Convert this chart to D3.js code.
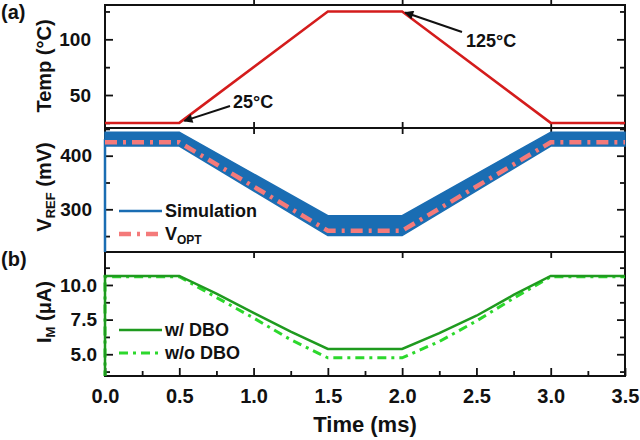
<!DOCTYPE html>
<html>
<head>
<meta charset="utf-8">
<script src="https://cdn.jsdelivr.net/npm/d3@7"></script>
<style>
  body { margin: 0; background: #fff; }
  svg text { font-family: "Liberation Sans", Arial, sans-serif; font-weight: bold; fill: #111; }
</style>
</head>
<body>
<div class="container"></div>
<script>
// time axis (ms)
var timeTicks = [0, 0.5, 1.0, 1.5, 2.0, 2.5, 3.0, 3.5];

// (a) temperature profile
var tempTime = [0, 0.5, 1.5, 2.0, 3.0, 3.5];
var temp = [25, 25, 125, 125, 25, 25];
var tempTicks = [50, 100];
var tempMinor = [25, 75, 125];

// V_REF simulation band (mV) and V_OPT
var simTime = [0, 0.5, 1.5, 2.0, 3.0, 3.5];
var simHigh = [444, 444, 288, 288, 444, 444];
var simLow = [418, 418, 251, 251, 418, 418];
var simStart = 0;
var vOpt = [425, 425, 260, 260, 425, 425];
var vTicks = [300, 400];
var vMinor = [250, 350, 450];

// (b) mirror current (uA)
var imTime = [0, 0, 0.5, 0.75, 1.0, 1.25, 1.5, 2.0, 2.25, 2.5, 2.75, 3.0, 3.5];
var imDbo = [0, 10.65, 10.65, 9.38, 7.98, 6.64, 5.38, 5.38, 6.52, 7.78, 9.28, 10.65, 10.65];
var imNoDbo = [0, 10.6, 10.6, 9.1, 7.62, 6.05, 4.74, 4.74, 5.92, 7.4, 9.04, 10.6, 10.6];
var imTicks = [5.0, 7.5, 10.0];
var imMinor = [3.75, 6.25, 8.75, 11.25];

!function () {
    var svg = d3.select('.container')
        .append('svg')
        .attr('width', 640)
        .attr('height', 440);

    var x = d3.scaleLinear().domain([0, 3.5]).range([105, 625]);

    var y1 = d3.scaleLinear().domain([20.4, 130.8]).range([128, 5]);
    var y2 = d3.scaleLinear().domain([220.3, 451.7]).range([252, 128]);
    var y3 = d3.scaleLinear().domain([3.43, 12.38]).range([376, 252]);

    var defs = svg.append('defs');
    [[y1, 'c1'], [y2, 'c2'], [y3, 'c3']].forEach(function (p) {
        var r = p[0].range();
        defs.append('clipPath').attr('id', p[1])
            .append('rect')
            .attr('x', x.range()[0] - 2).attr('y', r[1])
            .attr('width', x.range()[1] - x.range()[0] + 4)
            .attr('height', r[0] - r[1]);
    });
    defs.append('marker')
        .attr('id', 'arrow')
        .attr('viewBox', '0 0 10 10')
        .attr('refX', 9).attr('refY', 5)
        .attr('markerWidth', 11).attr('markerHeight', 9)
        .attr('markerUnits', 'userSpaceOnUse')
        .attr('orient', 'auto')
        .append('path')
        .attr('d', 'M0,0L10,5L0,10Z')
        .attr('fill', '#111');

    function style(g) {
        g.select('.domain').remove();
        g.selectAll('line').attr('stroke', '#111').attr('stroke-width', 1.8);
        g.selectAll('text').attr('font-size', 19).attr('fill', '#111')
            .attr('font-family', '"Liberation Sans", Arial, sans-serif').attr('font-weight', 'bold');
    }

    // y axes (left with labels, right without), ticks inward
    function yAxes(y, major, minor, pad, fmt) {
        svg.append('g')
            .attr('transform', 'translate(' + x.range()[0] + ',0)')
            .call(d3.axisLeft(y).tickValues(major).tickSize(-8).tickPadding(pad).tickFormat(fmt))
            .call(style);
        svg.append('g')
            .attr('transform', 'translate(' + x.range()[0] + ',0)')
            .call(d3.axisLeft(y).tickValues(minor).tickSize(-5).tickFormat(''))
            .call(style);
        svg.append('g')
            .attr('transform', 'translate(' + x.range()[1] + ',0)')
            .call(d3.axisRight(y).tickValues(major).tickSize(-8).tickFormat(''))
            .call(style);
        svg.append('g')
            .attr('transform', 'translate(' + x.range()[1] + ',0)')
            .call(d3.axisRight(y).tickValues(minor).tickSize(-5).tickFormat(''))
            .call(style);
    }

    function xSmall(yPos, dir) {
        var ax = dir > 0 ? d3.axisBottom(x) : d3.axisTop(x);
        svg.append('g')
            .attr('transform', 'translate(0,' + yPos + ')')
            .call(ax.tickValues([1, 2, 3]).tickSize(-6).tickFormat(''))
            .call(style);
    }

    yAxes(y1, tempTicks, tempMinor, 14, d3.format('d'));
    yAxes(y2, vTicks, vMinor, 13, d3.format('d'));
    yAxes(y3, imTicks, imMinor, 8, d3.format('.1f'));

    xSmall(5, 1);
    xSmall(128, -1);
    xSmall(128, 1);
    xSmall(252, -1);

    // bottom time axis
    var bx = svg.append('g')
        .attr('transform', 'translate(0,376)')
        .call(d3.axisBottom(x).tickValues(timeTicks).tickSize(-8).tickPadding(13).tickFormat(d3.format('.1f')))
        .call(style);
    bx.selectAll('text').attr('font-size', 20);
    svg.append('g')
        .attr('transform', 'translate(0,376)')
        .call(d3.axisBottom(x).tickValues(d3.range(0.25, 3.5, 0.5)).tickSize(-5).tickFormat(''))
        .call(style);

    // panel frames
    [y1, y2, y3].forEach(function (y) {
        var r = y.range();
        svg.append('rect')
            .attr('x', x.range()[0]).attr('y', r[1])
            .attr('width', x.range()[1] - x.range()[0])
            .attr('height', r[0] - r[1])
            .attr('fill', 'none')
            .attr('stroke', '#111')
            .attr('stroke-width', 2);
    });

    // (a) temperature
    svg.append('path')
        .datum(tempTime.map(function (t, i) { return [t, temp[i]]; }))
        .attr('clip-path', 'url(#c1)')
        .attr('fill', 'none')
        .attr('stroke', '#d41c1c')
        .attr('stroke-width', 2.5)
        .attr('d', d3.line().x(function (d) { return x(d[0]); }).y(function (d) { return y1(d[1]); }));

    // simulation band
    var g2 = svg.append('g').attr('clip-path', 'url(#c2)');
    g2.append('path')
        .datum([[0, simStart], [0, (simHigh[0] + simLow[0]) / 2]])
        .attr('fill', 'none').attr('stroke', '#1a6db3').attr('stroke-width', 2.5)
        .attr('d', d3.line().x(function (d) { return x(d[0]); }).y(function (d) { return y2(d[1]); }));
    g2.append('path')
        .datum(simTime.map(function (t, i) { return [t, simLow[i], simHigh[i]]; }))
        .attr('fill', '#1a6db3')
        .attr('stroke', '#1a6db3')
        .attr('stroke-width', 1.5)
        .attr('d', d3.area()
            .x(function (d) { return x(d[0]); })
            .y0(function (d) { return y2(d[1]); })
            .y1(function (d) { return y2(d[2]); }));
    g2.append('path')
        .datum(simTime.map(function (t, i) { return [t, vOpt[i]]; }))
        .attr('fill', 'none')
        .attr('stroke', '#f47a7a')
        .attr('stroke-width', 4.5)
        .attr('stroke-dasharray', '12,6,3,6')
        .attr('d', d3.line().x(function (d) { return x(d[0]); }).y(function (d) { return y2(d[1]); }));

    // (b) currents
    var g3 = svg.append('g').attr('clip-path', 'url(#c3)');
    var line3 = d3.line().x(function (d) { return x(d[0]); }).y(function (d) { return y3(d[1]); });
    g3.append('path')
        .datum(imTime.map(function (t, i) { return [t, imNoDbo[i]]; }))
        .attr('fill', 'none')
        .attr('stroke', '#2cd82c')
        .attr('stroke-width', 3)
        .attr('stroke-dasharray', '9,5,3,5')
        .attr('d', line3);
    g3.append('path')
        .datum(imTime.map(function (t, i) { return [t, imDbo[i]]; }))
        .attr('fill', 'none')
        .attr('stroke', '#1f9a1f')
        .attr('stroke-width', 2.5)
        .attr('d', line3);

    // annotations
    svg.append('line')
        .attr('x1', 230).attr('y1', 106)
        .attr('x2', x(0.5) + 5).attr('y2', y1(25) - 2)
        .attr('stroke', '#111').attr('stroke-width', 2)
        .attr('marker-end', 'url(#arrow)');
    svg.append('text').attr('x', 233).attr('y', 108).attr('font-size', 18).text('25°C');

    svg.append('line')
        .attr('x1', 462).attr('y1', 32)
        .attr('x2', x(2.0) + 3).attr('y2', y1(125) + 1)
        .attr('stroke', '#111').attr('stroke-width', 2)
        .attr('marker-end', 'url(#arrow)');
    svg.append('text').attr('x', 466).attr('y', 47).attr('font-size', 18).text('125°C');

    // legends
    function legendLine(y, color, width, dash) {
        svg.append('line')
            .attr('x1', 119).attr('x2', 162).attr('y1', y).attr('y2', y)
            .attr('stroke', color).attr('stroke-width', width)
            .attr('stroke-dasharray', dash || null);
    }
    legendLine(211, '#1a6db3', 2.5);
    svg.append('text').attr('x', 165).attr('y', 217).attr('font-size', 18).text('Simulation');
    legendLine(234, '#f47a7a', 4.5, '12,6,3,6');
    var vo = svg.append('text').attr('x', 165).attr('y', 240).attr('font-size', 18);
    vo.append('tspan').text('V');
    vo.append('tspan').attr('font-size', 12).attr('dy', 4).text('OPT');

    legendLine(330, '#1f9a1f', 2.5);
    svg.append('text').attr('x', 165).attr('y', 336).attr('font-size', 18).text('w/ DBO');
    legendLine(353, '#2cd82c', 3, '9,5,3,5');
    svg.append('text').attr('x', 165).attr('y', 359).attr('font-size', 18).text('w/o DBO');

    // axis titles
    function yTitle(cy, parts) {
        var t = svg.append('text')
            .attr('transform', 'translate(51,' + cy + ') rotate(-90)')
            .attr('text-anchor', 'middle')
            .attr('font-size', 20);
        parts.forEach(function (p) {
            var s = t.append('tspan').text(p[0]);
            if (p[1]) s.attr('font-size', 13).attr('dy', 4);
            if (p[2]) s.attr('dy', -4);
        });
    }
    yTitle(66, [['Temp (°C)']]);
    yTitle(187, [['V'], ['REF', 1], [' (mV)', 0, 1]]);
    yTitle(312, [['I'], ['M', 1], [' (μA)', 0, 1]]);

    svg.append('text')
        .attr('x', x(1.75)).attr('y', 432)
        .attr('text-anchor', 'middle')
        .attr('font-size', 22)
        .text('Time (ms)');

    svg.append('text').attr('x', 1).attr('y', 19).attr('font-size', 20).attr('font-weight', 'normal').text('(a)');
    svg.append('text').attr('x', 1).attr('y', 266).attr('font-size', 20).text('(b)');
}();
</script>
</body>
</html>
